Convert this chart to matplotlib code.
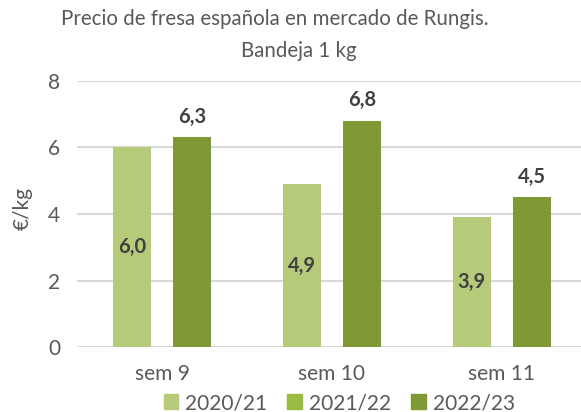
import numpy as np
import matplotlib
matplotlib.use('Agg')
import matplotlib.pyplot as plt
from matplotlib.patches import Patch

plt.rcParams['font.family'] = ['Lato', 'DejaVu Sans']

# datos
semanas = ['sem 9', 'sem 10', 'sem 11']
campanas = ['2020/21', '2021/22', '2022/23']
precio_2020 = [6.0, 4.9, 3.9]
precio_2021 = [np.nan, np.nan, np.nan]   # sin datos
precio_2022 = [6.3, 6.8, 4.5]
colores = ['#B5CB7A', '#9BBB45', '#7F9935']

gris = '#595959'
texto = '#404040'

fig = plt.figure(figsize=(5.81, 4.12), dpi=100)
ax = fig.add_axes([77/581, 64.7/412, 504/581, 266.6/412])

x = np.arange(len(semanas))
ancho = 0.2235
desp = 0.178

b1 = ax.bar(x - desp, precio_2020, ancho, color=colores[0], zorder=3)
b3 = ax.bar(x + desp, precio_2022, ancho, color=colores[2], zorder=3)

for rect, v in zip(b1, precio_2020):
    ax.text(rect.get_x() + rect.get_width()/2, v/2, f'{v:.1f}'.replace('.', ','),
            ha='center', va='center', fontsize=14.5, fontweight='bold', color=texto, zorder=4)
for rect, v in zip(b3, precio_2022):
    ax.text(rect.get_x() + rect.get_width()/2, v + 0.62, f'{v:.1f}'.replace('.', ','),
            ha='center', va='center', fontsize=14.5, fontweight='bold', color=texto, zorder=4)

ax.set_ylim(0, 8)
ax.set_xlim(-0.5, 2.465)
ax.set_yticks([0, 2, 4, 6, 8])
ax.yaxis.grid(True, color='#D9D9D9', linewidth=1.5, zorder=0)
ax.set_axisbelow(True)
for s in ['top', 'right', 'left', 'bottom']:
    ax.spines[s].set_visible(False)
ax.tick_params(length=0, labelsize=15, colors=gris, pad=0)
ax.tick_params(axis='y', pad=12)
ax.tick_params(axis='x', pad=12)
ax.set_xticks(x)
ax.set_xticklabels(semanas)
ax.set_ylabel('€/kg', fontsize=15, color=gris)
ax.yaxis.set_label_coords(-44/504, (347.3 - 208)/266.6)

fig.text(275/581, 1 - 19/412, 'Precio de fresa española en mercado de Rungis.', ha='center', va='center',
         fontsize=14.8, color=gris)
fig.text(299/581, 1 - 51/412, 'Bandeja 1 kg', ha='center', va='center', fontsize=14.8, color=gris)

handles = [Patch(color=c) for c in colores]
fig.legend(handles, campanas, loc='center', bbox_to_anchor=(0.584, 1 - 403/412), ncol=3,
           frameon=False, fontsize=15, labelcolor=gris, handlelength=0.7, handleheight=0.7,
           handletextpad=0.35, columnspacing=0.95, borderaxespad=0)

fig.savefig('out.png', dpi=100)
